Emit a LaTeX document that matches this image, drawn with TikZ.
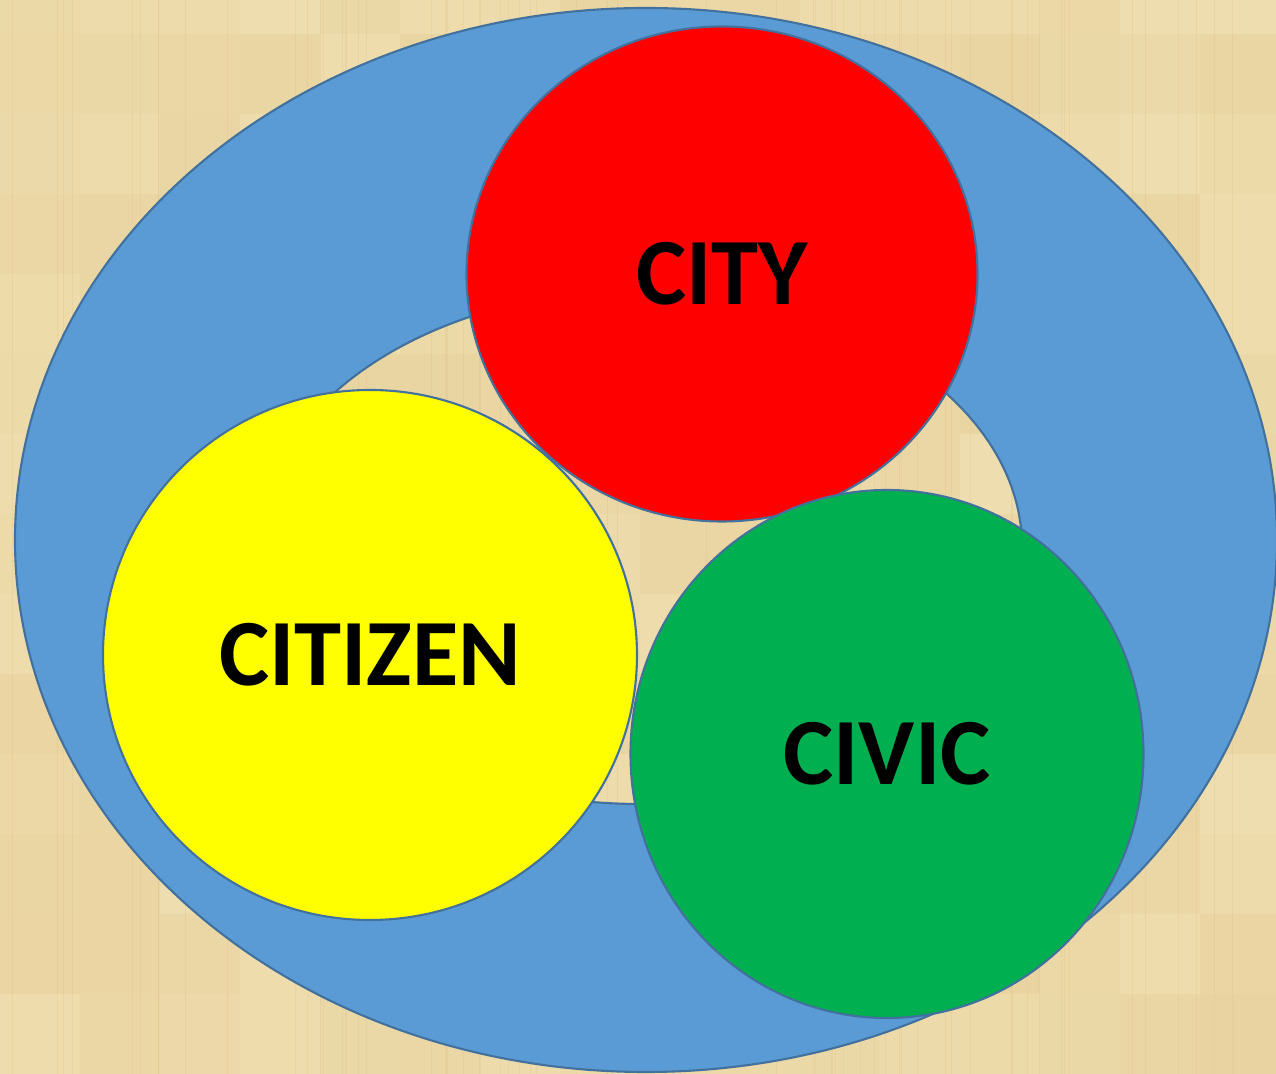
\documentclass[tikz,border=0pt]{standalone}
\usepackage{fontspec}
\setmainfont{Carlito}
\usetikzlibrary{shapes.geometric}

\definecolor{parch}{RGB}{228,205,150}
\definecolor{parchlight}{RGB}{242,226,182}
\definecolor{ringblue}{RGB}{91,155,213}
\definecolor{edgeblue}{RGB}{65,113,156}
\definecolor{cityred}{RGB}{255,0,0}
\definecolor{citizenyellow}{RGB}{255,255,0}
\definecolor{civicgreen}{RGB}{0,176,80}

\begin{document}
\begin{tikzpicture}[
  disc/.style={ellipse, draw=edgeblue, line width=1.2pt, inner sep=0pt,
               font=\bfseries\fontsize{54}{60}\selectfont, text=black},
]

%% ---- page and parchment background
\useasboundingbox (0,0) rectangle (25.52,21.48);
\clip (0,0) rectangle (25.52,21.48);
\fill[parch] (0,0) rectangle (25.52,21.48);
\pgfmathsetseed{7}
\foreach \i in {0,...,15}{
  \foreach \j in {0,...,13}{
    \pgfmathsetmacro{\shade}{35+40*rnd}
    \fill[parchlight!\shade!parch] (1.6*\i,1.6*\j) rectangle ++(1.6,1.6);
  }
}
\foreach \k in {1,...,60}{
  \pgfmathsetmacro{\px}{25.5*rnd}
  \draw[parch!80!brown, opacity=0.25, line width=0.6pt]
    (\px,0) -- (\px,21.48);
}

%% ---- outer blue ring (hole shows the parchment)
\draw[draw=edgeblue, fill=ringblue, line width=1.2pt, even odd rule]
  (12.92,10.68) ellipse [x radius=12.62, y radius=10.64]
  (12.80,10.54) ellipse [x radius=7.64, y radius=5.14];

%% ---- the three circles
\node[disc, fill=cityred, minimum width=10.22cm, minimum height=9.9cm]
  (city) at (14.44,16.0) {CITY};
\node[disc, fill=citizenyellow, minimum width=10.68cm, minimum height=10.6cm]
  (citizen) at (7.4,8.38) {CITIZEN};
\node[disc, fill=civicgreen, minimum width=10.26cm, minimum height=10.56cm]
  (civic) at (17.74,6.4) {CIVIC};

\end{tikzpicture}
\end{document}
